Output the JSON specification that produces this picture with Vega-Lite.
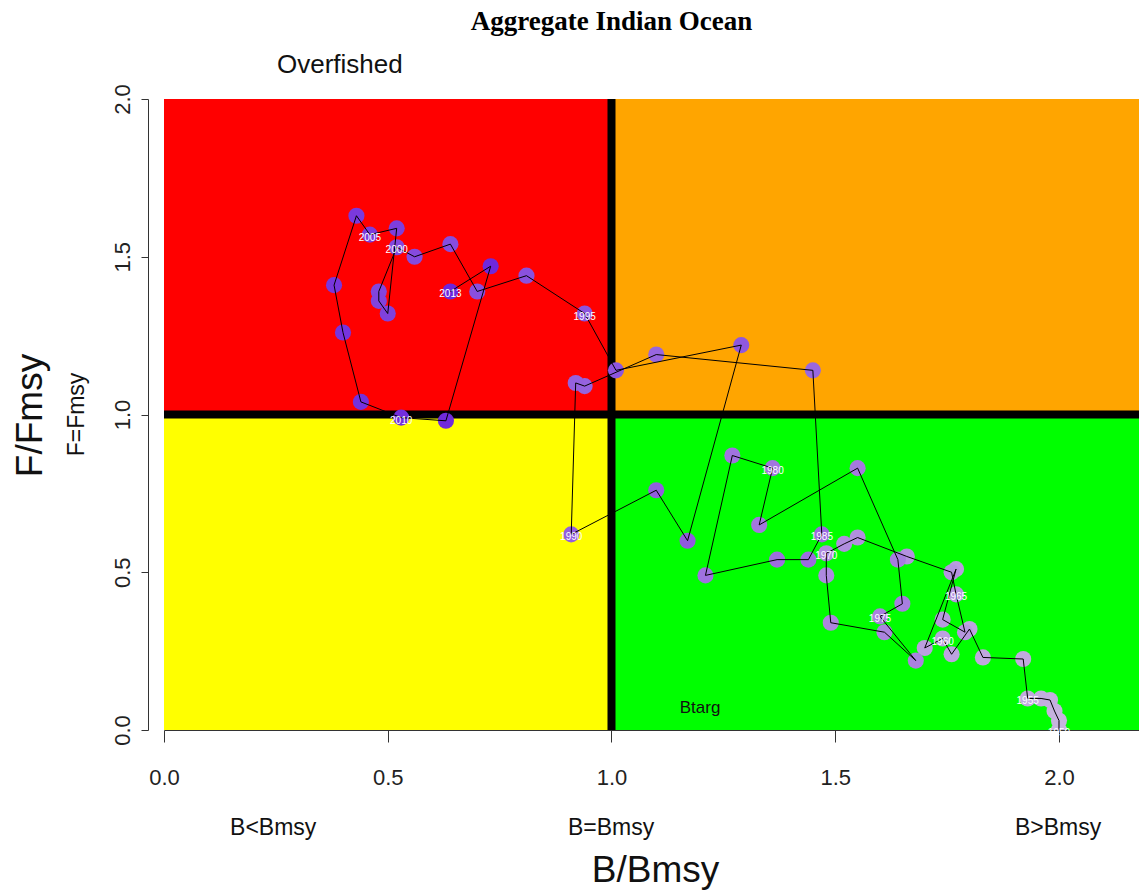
{
  "$schema": "https://vega.github.io/schema/vega-lite/v6.json",
  "width": 975,
  "height": 631,
  "autosize": {"type": "none"},
  "padding": {"left": 164, "top": 99, "right": 0, "bottom": 160},
  "background": "white",
  "config": {"view": {"stroke": null}, "font": "Liberation Sans"},
  "title": {"text": "Aggregate Indian Ocean", "font": "Liberation Serif", "fontSize": 27, "fontWeight": "bold", "color": "black", "anchor": "middle", "dx": -40, "offset": 16},
  "datasets": {
    "quad": [
      {"q": "red", "b": 0, "b2": 1, "f": 1, "f2": 2},
      {"q": "orange", "b": 1, "b2": 2.5, "f": 1, "f2": 2},
      {"q": "yellow", "b": 0, "b2": 1, "f": 0, "f2": 1},
      {"q": "green", "b": 1, "b2": 2.5, "f": 0, "f2": 1}
    ],
    "refs": [
      {"b": 1, "b2": 1, "f": 0, "f2": 2},
      {"b": 0, "b2": 2.5, "f": 1, "f2": 1}
    ],
    "traj": [
      {"year": 1950, "b": 2.00, "f": 0.00},
      {"year": 1951, "b": 2.00, "f": 0.03},
      {"year": 1952, "b": 1.99, "f": 0.06},
      {"year": 1953, "b": 1.98, "f": 0.095},
      {"year": 1954, "b": 1.96, "f": 0.10},
      {"year": 1955, "b": 1.93, "f": 0.10},
      {"year": 1956, "b": 1.92, "f": 0.225},
      {"year": 1957, "b": 1.83, "f": 0.23},
      {"year": 1958, "b": 1.80, "f": 0.32},
      {"year": 1959, "b": 1.76, "f": 0.24},
      {"year": 1960, "b": 1.74, "f": 0.29},
      {"year": 1961, "b": 1.70, "f": 0.26},
      {"year": 1962, "b": 1.77, "f": 0.51},
      {"year": 1963, "b": 1.74, "f": 0.35},
      {"year": 1964, "b": 1.79, "f": 0.31},
      {"year": 1965, "b": 1.77, "f": 0.43},
      {"year": 1966, "b": 1.76, "f": 0.50},
      {"year": 1967, "b": 1.66, "f": 0.55},
      {"year": 1968, "b": 1.55, "f": 0.61},
      {"year": 1969, "b": 1.52, "f": 0.59},
      {"year": 1970, "b": 1.48, "f": 0.56},
      {"year": 1971, "b": 1.48, "f": 0.49},
      {"year": 1972, "b": 1.49, "f": 0.34},
      {"year": 1973, "b": 1.61, "f": 0.31},
      {"year": 1974, "b": 1.68, "f": 0.22},
      {"year": 1975, "b": 1.60, "f": 0.36},
      {"year": 1976, "b": 1.65, "f": 0.40},
      {"year": 1977, "b": 1.64, "f": 0.54},
      {"year": 1978, "b": 1.55, "f": 0.83},
      {"year": 1979, "b": 1.33, "f": 0.65},
      {"year": 1980, "b": 1.36, "f": 0.83},
      {"year": 1981, "b": 1.27, "f": 0.87},
      {"year": 1982, "b": 1.21, "f": 0.49},
      {"year": 1983, "b": 1.37, "f": 0.54},
      {"year": 1984, "b": 1.44, "f": 0.54},
      {"year": 1985, "b": 1.47, "f": 0.62},
      {"year": 1986, "b": 1.45, "f": 1.14},
      {"year": 1987, "b": 1.10, "f": 1.19},
      {"year": 1988, "b": 0.94, "f": 1.09},
      {"year": 1989, "b": 0.92, "f": 1.10},
      {"year": 1990, "b": 0.91, "f": 0.62},
      {"year": 1991, "b": 1.10, "f": 0.76},
      {"year": 1992, "b": 1.17, "f": 0.60},
      {"year": 1993, "b": 1.29, "f": 1.22},
      {"year": 1994, "b": 1.01, "f": 1.14},
      {"year": 1995, "b": 0.94, "f": 1.32},
      {"year": 1996, "b": 0.81, "f": 1.44},
      {"year": 1997, "b": 0.70, "f": 1.39},
      {"year": 1998, "b": 0.64, "f": 1.54},
      {"year": 1999, "b": 0.56, "f": 1.50},
      {"year": 2000, "b": 0.52, "f": 1.53},
      {"year": 2001, "b": 0.48, "f": 1.39},
      {"year": 2002, "b": 0.48, "f": 1.36},
      {"year": 2003, "b": 0.50, "f": 1.32},
      {"year": 2004, "b": 0.52, "f": 1.59},
      {"year": 2005, "b": 0.46, "f": 1.57},
      {"year": 2006, "b": 0.43, "f": 1.63},
      {"year": 2007, "b": 0.38, "f": 1.41},
      {"year": 2008, "b": 0.40, "f": 1.26},
      {"year": 2009, "b": 0.44, "f": 1.04},
      {"year": 2010, "b": 0.53, "f": 0.99},
      {"year": 2011, "b": 0.63, "f": 0.98},
      {"year": 2012, "b": 0.73, "f": 1.47},
      {"year": 2013, "b": 0.64, "f": 1.39}
    ],
    "notes": [
      {"txt": "Overfished", "b": 0.393, "f": 2.108},
      {"txt": "Btarg", "b": 1.198, "f": 0.07},
      {"txt": "B<Bmsy", "b": 0.244, "f": -0.311},
      {"txt": "B=Bmsy", "b": 0.999, "f": -0.311},
      {"txt": "B>Bmsy", "b": 1.998, "f": -0.311},
      {"txt": "F=Fmsy", "b": -0.194, "f": 1.0}
    ]
  },
  "layer": [
    {
      "data": {"name": "quad"},
      "mark": {"type": "rect", "clip": true},
      "encoding": {
        "x": {"field": "b", "type": "quantitative",
          "scale": {"domain": [0, 2.1788], "nice": false, "zero": false},
          "axis": {"values": [0, 0.5, 1, 1.5, 2], "format": ".1f", "grid": false, "labelFlush": false,
            "domainColor": "#333", "tickColor": "#333", "tickSize": 12, "labelFontSize": 22, "labelColor": "#222",
            "labelPadding": 25, "labelFont": "Liberation Sans",
            "title": "B/Bmsy", "titleFontSize": 37, "titleFontWeight": "normal", "titleFont": "Liberation Sans", "titleColor": "#111",
            "titleBaseline": "middle", "titleX": 491, "titleY": 140}},
        "x2": {"field": "b2"},
        "y": {"field": "f", "type": "quantitative",
          "scale": {"domain": [0, 2], "nice": false, "zero": false},
          "axis": {"values": [0, 0.5, 1, 1.5, 2], "format": ".1f", "grid": false, "offset": 16, "labelFlush": false,
            "domainColor": "#333", "tickColor": "#333", "tickSize": 7, "labelFontSize": 22, "labelColor": "#222",
            "labelAngle": 270, "labelPadding": 7, "labelFont": "Liberation Sans",
            "title": "F/Fmsy", "titleFontSize": 37, "titleFontWeight": "normal", "titleFont": "Liberation Sans", "titleColor": "#111",
            "titleAngle": 270, "titleBaseline": "middle", "titleAlign": "center", "titleX": -118, "titleY": 316}},
        "y2": {"field": "f2"},
        "color": {"field": "q", "type": "nominal", "legend": null,
          "scale": {"domain": ["red", "orange", "yellow", "green"], "range": ["#FF0000", "#FFA500", "#FFFF00", "#00FF00"]}}
      }
    },
    {
      "data": {"name": "refs"},
      "mark": {"type": "rule", "clip": true, "color": "black", "strokeWidth": 8},
      "encoding": {
        "x": {"field": "b", "type": "quantitative"},
        "x2": {"field": "b2"},
        "y": {"field": "f", "type": "quantitative"},
        "y2": {"field": "f2"}
      }
    },
    {
      "data": {"name": "traj"},
      "mark": {"type": "point", "shape": "circle", "filled": true, "size": 260, "opacity": 1, "clip": true},
      "encoding": {
        "x": {"field": "b", "type": "quantitative"},
        "y": {"field": "f", "type": "quantitative"},
        "color": {"field": "year", "type": "quantitative", "legend": null,
          "scale": {"domain": [1950, 2013], "range": ["#c8b6de", "#6d25dc"]}}
      }
    },
    {
      "data": {"name": "traj"},
      "mark": {"type": "line", "color": "black", "strokeWidth": 1, "clip": true},
      "encoding": {
        "x": {"field": "b", "type": "quantitative"},
        "y": {"field": "f", "type": "quantitative"},
        "order": {"field": "year", "type": "quantitative"}
      }
    },
    {
      "data": {"name": "traj"},
      "transform": [{"filter": "datum.year % 5 == 0 || datum.year == 2013"}],
      "mark": {"type": "text", "color": "white", "fontSize": 10, "font": "Liberation Sans", "dy": 3},
      "encoding": {
        "x": {"field": "b", "type": "quantitative"},
        "y": {"field": "f", "type": "quantitative"},
        "text": {"field": "year", "type": "nominal"}
      }
    },
    {
      "data": {"name": "notes"},
      "transform": [{"filter": "datum.txt == 'Overfished'"}],
      "mark": {"type": "text", "color": "#111", "font": "Liberation Sans", "fontSize": 26, "clip": false},
      "encoding": {
        "x": {"field": "b", "type": "quantitative"},
        "y": {"field": "f", "type": "quantitative"},
        "text": {"field": "txt", "type": "nominal"}
      }
    },
    {
      "data": {"name": "notes"},
      "transform": [{"filter": "datum.txt == 'Btarg'"}],
      "mark": {"type": "text", "color": "#111", "font": "Liberation Sans", "fontSize": 17, "clip": false},
      "encoding": {
        "x": {"field": "b", "type": "quantitative"},
        "y": {"field": "f", "type": "quantitative"},
        "text": {"field": "txt", "type": "nominal"}
      }
    },
    {
      "data": {"name": "notes"},
      "transform": [{"filter": "indexof(['B<Bmsy','B=Bmsy','B>Bmsy'], datum.txt) >= 0"}],
      "mark": {"type": "text", "color": "#111", "font": "Liberation Sans", "fontSize": 23, "clip": false},
      "encoding": {
        "x": {"field": "b", "type": "quantitative"},
        "y": {"field": "f", "type": "quantitative"},
        "text": {"field": "txt", "type": "nominal"}
      }
    },
    {
      "data": {"name": "notes"},
      "transform": [{"filter": "datum.txt == 'F=Fmsy'"}],
      "mark": {"type": "text", "color": "#111", "font": "Liberation Sans", "fontSize": 23, "angle": 270, "clip": false},
      "encoding": {
        "x": {"field": "b", "type": "quantitative"},
        "y": {"field": "f", "type": "quantitative"},
        "text": {"field": "txt", "type": "nominal"}
      }
    }
  ]
}
